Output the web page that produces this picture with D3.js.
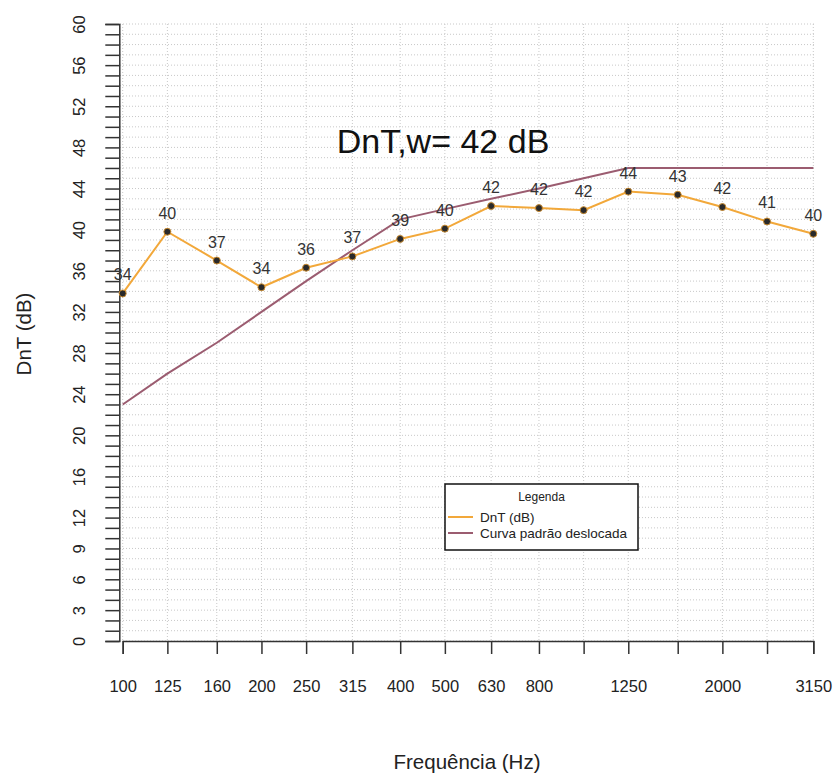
<!DOCTYPE html>
<html>
<head>
<meta charset="utf-8">
<script src="https://d3js.org/d3.v7.min.js"></script>
<style>
  html, body { margin: 0; padding: 0; background: #fff; }
  svg { display: block; font-family: "Liberation Sans", Arial, sans-serif; }
  .grid line { stroke: #c8c8c8; stroke-width: 1; stroke-dasharray: 1,2; }
  .axis path, .axis line { stroke: #333; stroke-width: 1.5; }
  .axis text { fill: #222; font-size: 16.5px; }
</style>
</head>
<body>
<div id="chart"></div>
<script>
const width = 835, height = 774;

// one third octave bands (Hz)
const freqs = [100, 125, 160, 200, 250, 315, 400, 500, 630, 800, 1000, 1250, 1600, 2000, 2500, 3150];
const freqLabels = [100, 125, 160, 200, 250, 315, 400, 500, 630, 800, 1250, 2000, 3150]; // the ones R kept
// measured DnT per band
const dnt = [33.8, 39.8, 37.0, 34.4, 36.3, 37.4, 39.1, 40.1, 42.3, 42.1, 41.9, 43.7, 43.4, 42.2, 40.8, 39.6];
// reference curve shifted
const refCurve = [23, 26, 29, 32, 35, 38, 41, 42, 43, 44, 45, 46, 46, 46, 46, 46];
const yTicks = d3.range(0, 61);
const yLabels = [0, 3, 6, 9, 12, 16, 20, 24, 28, 32, 36, 40, 44, 48, 52, 56, 60];
const ratingText = "DnT,w= 42 dB";

const x = d3.scaleLog().domain([100, 3150]).range([122.7, 813.3]);
const y = d3.scaleLinear().domain([0, 60]).range([641, 24]);

const svg = d3.select("#chart").append("svg")
  .attr("width", width).attr("height", height);

// dotted grid
const grid = svg.append("g").attr("class", "grid");
grid.selectAll("line.h").data(yTicks).join("line").attr("class", "h")
  .attr("x1", 120).attr("x2", 815)
  .attr("y1", d => y(d)).attr("y2", d => y(d));
grid.selectAll("line.v").data(freqs).join("line").attr("class", "v")
  .attr("x1", d => x(d)).attr("x2", d => x(d))
  .attr("y1", y(60)).attr("y2", y(0));

// axes
svg.append("g").attr("class", "axis")
  .attr("transform", `translate(0,${y(0)})`)
  .call(d3.axisBottom(x).tickValues(freqs).tickSizeOuter(0).tickSize(13).tickPadding(26)
    .tickFormat(d => freqLabels.includes(d) ? d : ""));

const yAxis = svg.append("g").attr("class", "axis")
  .attr("transform", "translate(119.3,0)")
  .call(d3.axisLeft(y).tickValues(yTicks).tickSizeOuter(0).tickSize(14)
    .tickFormat(d => yLabels.includes(d) ? d : ""));
yAxis.selectAll("text")
  .attr("transform", "rotate(-90)")
  .attr("x", 0).attr("y", -34).attr("dy", 0)
  .attr("text-anchor", "middle");

// reference curve
const line = d3.line().x(d => x(d[0])).y(d => y(d[1]));
svg.append("path")
  .datum(freqs.map((f, i) => [f, refCurve[i]]))
  .attr("d", line)
  .attr("fill", "none").attr("stroke", "#9b5c70").attr("stroke-width", 2);

// measured DnT
svg.append("path")
  .datum(freqs.map((f, i) => [f, dnt[i]]))
  .attr("d", line)
  .attr("fill", "none").attr("stroke", "#f2a83a").attr("stroke-width", 2);

svg.append("g").selectAll("circle")
  .data(freqs.map((f, i) => [f, dnt[i]]))
  .join("circle")
  .attr("cx", d => x(d[0])).attr("cy", d => y(d[1])).attr("r", 3.5)
  .attr("fill", "#2a2a2a").attr("stroke", "#c88a30").attr("stroke-width", 1);

svg.append("g").selectAll("text")
  .data(freqs.map((f, i) => [f, dnt[i]]))
  .join("text")
  .attr("x", d => x(d[0])).attr("y", d => y(d[1]) - 13)
  .attr("text-anchor", "middle")
  .attr("font-size", 16).attr("fill", "#333")
  .text(d => Math.round(d[1]));

// rating
svg.append("text")
  .attr("x", 443).attr("y", 153)
  .attr("text-anchor", "middle")
  .attr("font-size", 34).attr("fill", "#111")
  .text(ratingText);

// axis titles
svg.append("text")
  .attr("transform", "translate(31,334) rotate(-90)")
  .attr("text-anchor", "middle").attr("font-size", 20.5).attr("fill", "#222")
  .text("DnT (dB)");
svg.append("text")
  .attr("x", 467).attr("y", 769)
  .attr("text-anchor", "middle").attr("font-size", 20.5).attr("fill", "#222")
  .text("Frequência (Hz)");

// legend
const legendItems = [["DnT (dB)", "#f2a83a"], ["Curva padrão deslocada", "#9b5c70"]];
const lg = svg.append("g").attr("transform", "translate(445,484)");
lg.append("rect").attr("width", 193).attr("height", 66)
  .attr("fill", "#fff").attr("stroke", "#111").attr("stroke-width", 1.5);
lg.append("text").attr("x", 96.5).attr("y", 17)
  .attr("text-anchor", "middle").attr("font-size", 12).attr("fill", "#222")
  .text("Legenda");
const li = lg.selectAll("g.item").data(legendItems).join("g")
  .attr("class", "item")
  .attr("transform", (d, i) => `translate(0,${33 + i * 16})`);
li.append("line").attr("x1", 3).attr("x2", 28)
  .attr("stroke", d => d[1]).attr("stroke-width", 2);
li.append("text").attr("x", 35).attr("y", 4.5)
  .attr("font-size", 13.5).attr("fill", "#222")
  .text(d => d[0]);
</script>
</body>
</html>
